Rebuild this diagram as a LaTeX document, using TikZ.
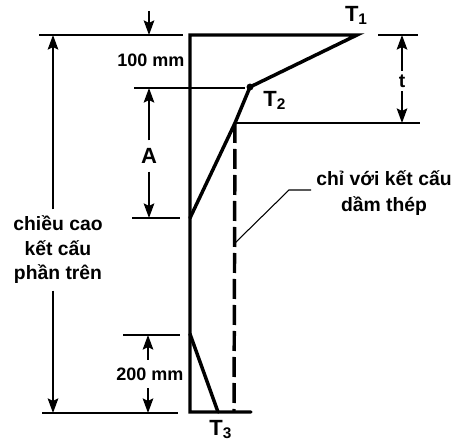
\documentclass[tikz,border=0pt]{standalone}
\usepackage{fontspec}
\setmainfont{Liberation Sans}
\usetikzlibrary{arrows.meta}
\usetikzlibrary{positioning}

\begin{document}
\begin{tikzpicture}[x=0.75pt,y=-0.75pt,>={Stealth[length=11pt,width=8pt,inset=2pt]},
  frame line/.style={line width=2.6pt,line cap=round,line join=miter},
  thin line/.style={line width=1.1pt},
  dim line/.style={line width=1.1pt,->},
  lead line/.style={line width=0.8pt},
  main label/.style={font=\fontsize{13.5}{18.4}\selectfont\bfseries,align=center,inner sep=0pt,outer sep=2pt},
  big label/.style={main label,font=\fontsize{14.5}{18.4}\selectfont\bfseries},
  pt label/.style={main label,font=\fontsize{16.5}{18}\selectfont\bfseries}]
  \useasboundingbox (0,0) rectangle (453,441);
  % frame points
  \coordinate (top) at (190,35);
  \coordinate (t1) at (357,35);
  \coordinate (t2) at (250,87);
  \coordinate (knee) at (235,123);
  \coordinate (mid) at (190,218);
  \coordinate (low) at (190,334);
  \coordinate (base) at (190,412);
  \coordinate (t3) at (218,412);
  \coordinate (baseend) at (251,412);
  \coordinate (dashend) at (234,412);
  % labels
  \node[big label,outer ysep=5pt] (height) at (58,250) {chiều cao\\kết cấu\\phần trên};
  \node[main label] (hundred) at (151,60) {100 mm};
  \node[main label,outer ysep=6pt] (twohundred) at (150,374) {200 mm};
  \node[pt label,outer ysep=6pt] (aa) at (149,156) {A};
  \node[big label,outer ysep=3pt] (tt) at (402,81) {t};
  \node[pt label,above right=5.5pt and -11pt of t1] (t1l) {T\textsubscript{1}};
  \node[pt label,below right=1pt and 8pt of t2] (t2l) {T\textsubscript{2}};
  \node[pt label,below=4pt of t3,xshift=2pt] (t3l) {T\textsubscript{3}};
  \node[big label,font=\fontsize{14.5}{19.5}\selectfont\bfseries] (note) at (384,193) {chỉ với kết cấu\\dầm thép};
  % extension lines
  \coordinate (ea) at (39,35);
  \coordinate (eb) at (183,35);
  \coordinate (ec) at (134,88);
  \coordinate (ed) at (245,88);
  \coordinate (ee) at (132,218);
  \coordinate (ef) at (180,218);
  \coordinate (eg) at (123,335);
  \coordinate (eh) at (180,335);
  \coordinate (ei) at (42,413);
  \coordinate (ej) at (178,413);
  \coordinate (ek) at (378,35);
  \coordinate (el) at (418,35);
  \coordinate (em) at (420,123);
  \draw[thin line] (ea) -- (eb);
  \draw[thin line] (ec) -- (ed);
  \draw[thin line] (ee) -- (ef);
  \draw[thin line] (eg) -- (eh);
  \draw[thin line] (ei) -- (ej);
  \draw[thin line] (ek) -- (el);
  \draw[thin line] (knee) -- (em);
  % dimension arrows
  \coordinate (da) at (53,35);
  \coordinate (db) at (53,413);
  \coordinate (dc) at (149,11);
  \coordinate (dd) at (149,35);
  \coordinate (de) at (149,88);
  \coordinate (df) at (149,218);
  \coordinate (dg) at (148,335);
  \coordinate (dh) at (148,413);
  \coordinate (di) at (402,35);
  \coordinate (dj) at (402,123);
  \draw[dim line] (da |- height.north) -- (da);
  \draw[dim line] (db |- height.south) -- (db);
  \draw[dim line] (dc) -- (dd);
  \draw[dim line] (aa) -- (de);
  \draw[dim line] (aa) -- (df);
  \draw[dim line] (dg |- twohundred.north) -- (dg);
  \draw[dim line] (dh |- twohundred.south) -- (dh);
  \draw[dim line] (tt) -- (di);
  \draw[dim line] (tt) -- (dj);
  % frame
  \draw[frame line] (t2) -- (t1) -- (top) -- (base) -- (baseend);
  \draw[frame line] (t2) -- (knee) -- (mid);
  \draw[frame line] (low) -- (t3);
  \draw[line width=2.6pt,dash pattern=on 15pt off 4.5pt] (knee) -- (dashend);
  \fill (t2) circle (2.6pt);
  % leader
  \coordinate (la) at (235,243);
  \coordinate (lb) at (289,190);
  \coordinate (lc) at (311,190);
  \draw[lead line] (la) -- (lb) -- (lc);
\end{tikzpicture}
\end{document}
